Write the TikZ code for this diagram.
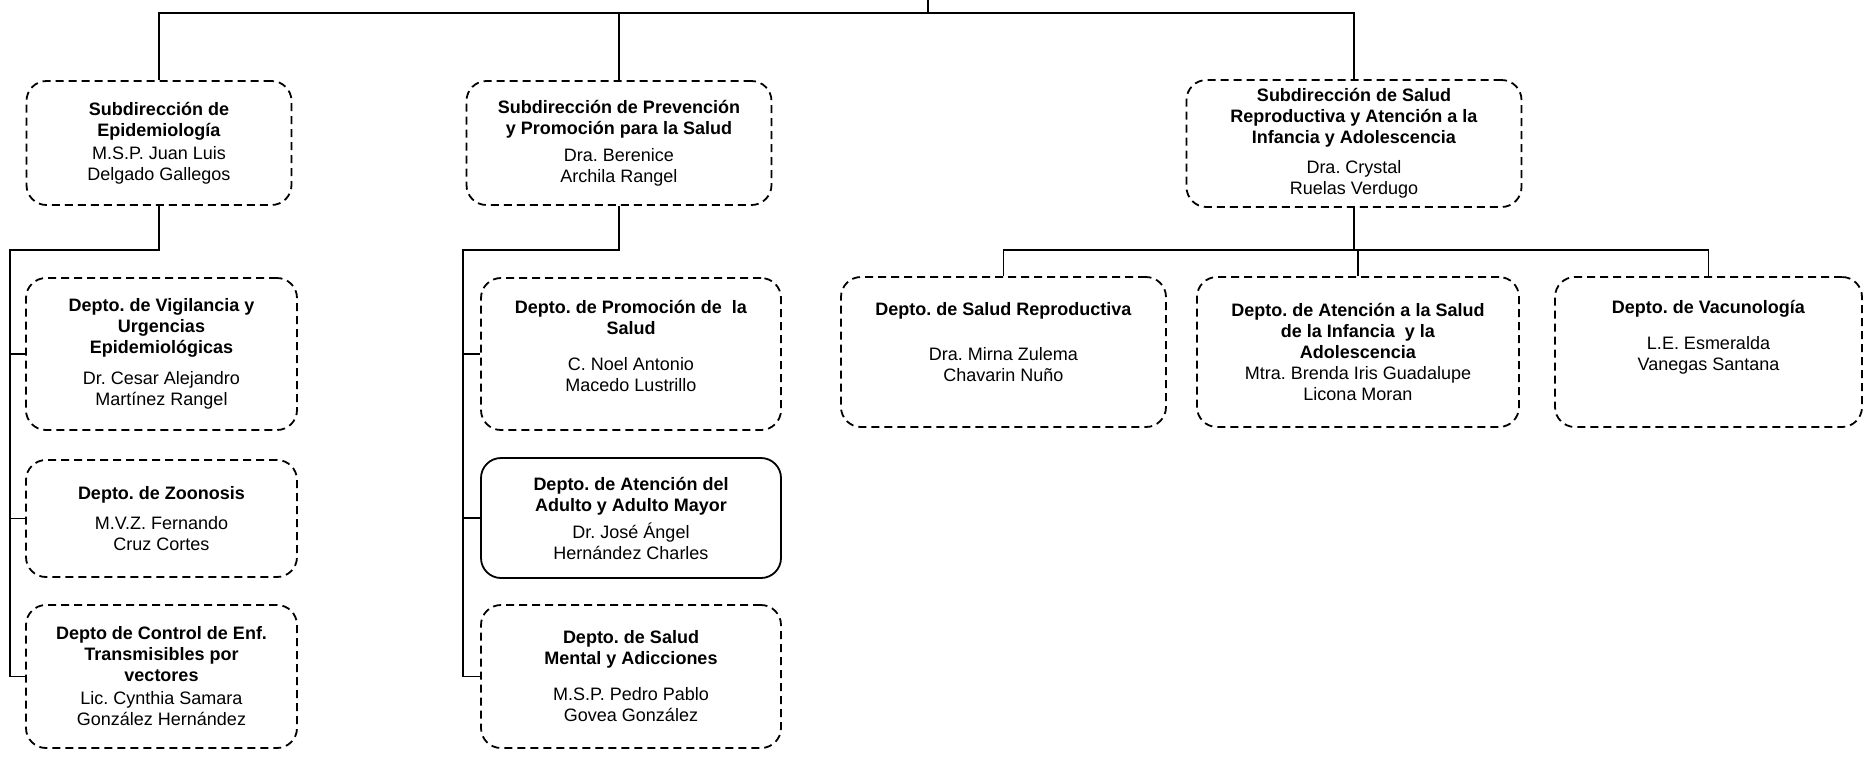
\documentclass[tikz,border=0pt]{standalone}
\usepackage{fontspec}
\setmainfont{Liberation Sans}
\frenchspacing
\begin{document}
\begin{tikzpicture}[x=0.5pt, y=-0.5pt,
  caja/.style={draw, dash pattern=on 4pt off 2.5pt, line width=0.9pt, rounded corners=10pt,
    align=center, inner sep=0pt, font=\fontsize{9}{10.5}\selectfont},
  linea/.style={line width=0.9pt}]
\useasboundingbox (0,0) rectangle (1864,757);
% subdirecciones
\node[caja, minimum width=132.5pt, minimum height=62pt] (epi) at (159,143)
  {\textbf{Subdirección de}\\\textbf{Epidemiología}\\[1pt]M.S.P. Juan Luis\\Delgado Gallegos};
\node[caja, minimum width=152.5pt, minimum height=62pt] (prev) at (619,143)
  {\textbf{Subdirección de Prevención}\\\textbf{y Promoción para la Salud}\\[3pt]Dra. Berenice\\Archila Rangel};
\node[caja, minimum width=167.5pt, minimum height=63.5pt] (repro) at (1354,143.5)
  {\textbf{Subdirección de Salud}\\\textbf{Reproductiva y Atención a la}\\\textbf{Infancia y Adolescencia}\\[4.5pt]Dra. Crystal\\Ruelas Verdugo};
% deptos epidemiologia
\node[caja, minimum width=135.5pt, minimum height=76pt] (vig) at (161.5,354)
  {\textbf{Depto. de Vigilancia y}\\\textbf{Urgencias}\\\textbf{Epidemiológicas}\\[5pt]Dr. Cesar Alejandro\\Martínez Rangel};
\node[caja, minimum width=135.5pt, minimum height=58.5pt] (zoo) at (161.5,518.5)
  {\textbf{Depto. de Zoonosis}\\[4.5pt]M.V.Z. Fernando\\Cruz Cortes};
\node[caja, minimum width=135.5pt, minimum height=71.5pt] (ctrl) at (161.5,676.5)
  {\textbf{Depto de Control de Enf.}\\\textbf{Transmisibles por}\\\textbf{vectores}\\[1pt]Lic. Cynthia Samara\\González Hernández};
% deptos prevencion
\node[caja, minimum width=150pt, minimum height=76pt] (prom) at (631,354)
  {\textbf{Depto. de Promoción de\ \ la}\\\textbf{Salud}\\[7.5pt]C. Noel Antonio\\Macedo Lustrillo\\[-2pt]\mbox{}};
\node[caja, solid, minimum width=150pt, minimum height=60pt] (adulto) at (631,518)
  {\textbf{Depto. de Atención del}\\\textbf{Adulto y Adulto Mayor}\\[3pt]Dr. José Ángel\\Hernández Charles};
\node[caja, minimum width=150pt, minimum height=71.5pt] (mental) at (631,676.5)
  {\textbf{Depto. de Salud}\\\textbf{Mental y Adicciones}\\[7.5pt]M.S.P. Pedro Pablo\\Govea González};
% deptos salud reproductiva
\node[caja, minimum width=162.5pt, minimum height=75pt] (sr) at (1003.5,352)
  {\textbf{Depto. de Salud Reproductiva}\\[12pt]Dra. Mirna Zulema\\Chavarin Nuño\\[0pt]\mbox{}};
\node[caja, minimum width=161pt, minimum height=75pt] (aten) at (1358,352)
  {\textbf{Depto. de Atención a la Salud}\\\textbf{de la Infancia\ \ y la}\\\textbf{Adolescencia}\\Mtra. Brenda Iris Guadalupe\\Licona Moran};
\node[caja, minimum width=153.5pt, minimum height=75pt] (vac) at (1708.5,352)
  {\textbf{Depto. de Vacunología}\\[7.5pt]L.E. Esmeralda\\Vanegas Santana\\[6pt]\mbox{}};
% lineas
\coordinate (root) at (928,0);
\coordinate (bus) at (0,13);
\coordinate (ljoin) at (10,250);
\coordinate (mjoin) at (463,250);
\coordinate (rbus) at (0,250);
\draw[linea] (root) -- (root |- bus);
\draw[linea] (epi.north) -- (epi.north |- bus) -- (repro.north |- bus) -- (repro.north);
\draw[linea] (prev.north) -- (prev.north |- bus);
\draw[linea] (epi.south) |- (ljoin) -- (ljoin |- ctrl.west) -- (ctrl.west);
\draw[linea] (ljoin |- vig.west) -- (vig.west);
\draw[linea] (ljoin |- zoo.west) -- (zoo.west);
\draw[linea] (prev.south) |- (mjoin) -- (mjoin |- mental.west) -- (mental.west);
\draw[linea] (mjoin |- prom.west) -- (prom.west);
\draw[linea] (mjoin |- adulto.west) -- (adulto.west);
\draw[linea] (repro.south) -- (repro.south |- rbus);
\draw[linea] (sr.north) |- (rbus -| vac.north) -- (vac.north);
\draw[linea] (aten.north) -- (aten.north |- rbus);
\end{tikzpicture}
\end{document}
